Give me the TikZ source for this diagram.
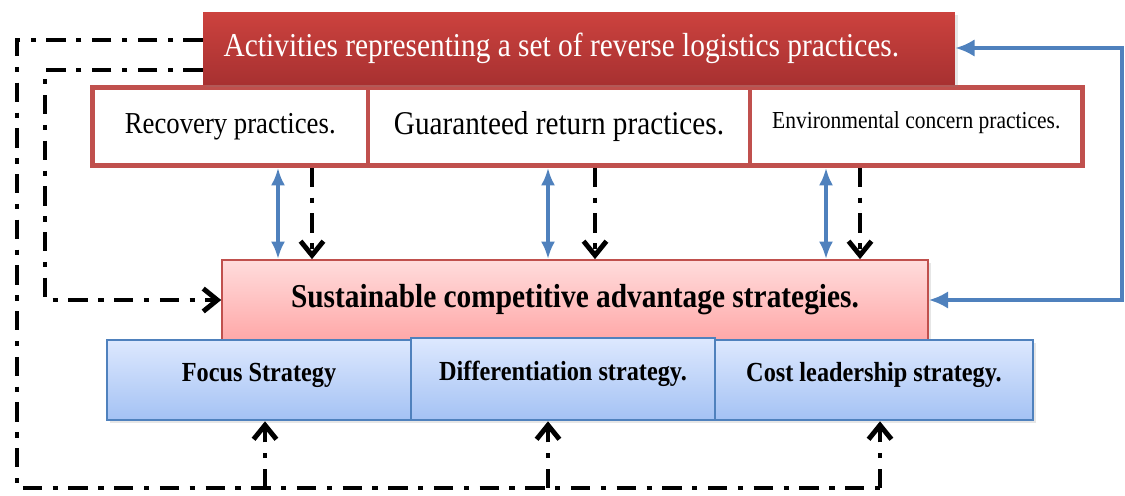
\documentclass[tikz,border=0pt]{standalone}
\usepackage{fontspec}
\setmainfont{Liberation Serif}[FakeStretch=0.88]
\usetikzlibrary{positioning,calc,arrows.meta,shadows}

\definecolor{boxred}{HTML}{C0504D}
\definecolor{boxblue}{HTML}{4F81BD}
\definecolor{topRed}{HTML}{CC423E}
\definecolor{botRed}{HTML}{A83131}
\definecolor{pinkTop}{HTML}{FFDCDC}
\definecolor{pinkBot}{HTML}{FFA8A8}
\definecolor{blueTop}{HTML}{DDE8FE}
\definecolor{blueBot}{HTML}{A4C2F4}

\begin{document}
\begin{tikzpicture}[x=0.02cm, y=-0.02cm,
    shade/.style={drop shadow={shadow xshift=1.5pt, shadow yshift=-1.5pt, opacity=0.2}},
    practice/.style={draw=boxred, line width=2.6pt, fill=white, minimum height=1.56cm, font=\fontsize{17.3}{19}\selectfont},
    strategy/.style={draw=boxblue, line width=1.5pt, top color=blueTop, bottom color=blueBot, shade,
        minimum height=1.6cm, font=\bfseries\fontsize{15.7}{17}\selectfont, text height=11pt, text depth=9.6pt},
    link/.style={draw=boxblue, line width=2pt, {Latex[length=10pt,width=8pt]}-{Latex[length=10pt,width=8pt]}},
    loopback/.style={draw=boxblue, line width=2.4pt, {Latex[length=11pt,width=10pt]}-{Latex[length=11pt,width=10pt]}},
    feed/.style={line width=2.8pt, dash pattern=on 11pt off 6pt on 3pt off 6pt, -{Straight Barb[length=8pt,width=13pt]}}
]
\useasboundingbox (0,0) rectangle (1125,495);

% practices row and header
\node [practice] (rec) at (230.25,126.5) [minimum width=5.51cm] {Recovery practices.};
\node [practice, font=\fontsize{18.9}{20}\selectfont] (gua) at (559,126.5) [minimum width=7.64cm] {Guaranteed return practices.};
\node [practice, font=\fontsize{13.9}{15}\selectfont, text height=10pt, text depth=7.6pt] (env) at (916.25,126.5) [minimum width=6.65cm] {Environmental concern practices.};
\node [top color=topRed, bottom color=botRed, shade, minimum width=15.04cm, minimum height=1.44cm,
    text=white, font=\fontsize{19}{21}\selectfont] (top) at (579,48) {Activities representing a set of reverse logistics practices.\kern20pt};

% strategies
\node [draw=boxred, line width=1pt, top color=pinkTop, bottom color=pinkBot, shade, minimum width=14.12cm, minimum height=1.6cm,
    font=\bfseries\fontsize{19}{21}\selectfont, text height=13pt, text depth=5pt] (sca) at (575,300) {Sustainable competitive advantage strategies.};
\node [strategy, minimum width=6.08cm] (foc) at (259,380) {Focus Strategy};
\node [strategy, minimum width=6.08cm, minimum height=1.64cm] (dif) at (563,379) {Differentiation strategy.};
\node [strategy, minimum width=6.36cm] (cost) at (874,380) {Cost leadership strategy.};

% links between practices and strategies
\draw [link] ($(rec.south)+(47.75,0)$) coordinate (b1) -- (b1 |- sca.north);
\draw [link] ($(gua.south)+(-11,0)$) coordinate (b2) -- (b2 |- sca.north);
\draw [link] ($(env.south)+(-90.25,0)$) coordinate (b3) -- (b3 |- sca.north);
\draw [feed] ($(rec.south)+(81.75,0)$) coordinate (k1) -- (k1 |- sca.north);
\draw [feed] ($(gua.south)+(36,0)$) coordinate (k2) -- (k2 |- sca.north);
\draw [feed] ($(env.south)+(-56.25,0)$) coordinate (k3) -- (k3 |- sca.north);

% feedback on the right
\coordinate (rt) at (1122,48);
\draw [loopback] (top.east) -- (rt) |- (sca.east);

% feedback on the left
\coordinate (li) at (45,70);
\coordinate (lo) at (17,40);
\coordinate (bl) at (17,488);
\coordinate (f1) at (265,488);
\coordinate (f2) at (548,488);
\coordinate (f3) at (880,488);
\draw [feed] (top.west |- li) -- (li) |- (sca.west);
\draw [feed, -] (top.west |- lo) -- (lo) -- (bl) -- (f3);
\draw [feed] (f1) -- (f1 |- foc.south);
\draw [feed] (f2) -- (f2 |- dif.south);
\draw [feed] (f3) -- (f3 |- cost.south);
\end{tikzpicture}
\end{document}
